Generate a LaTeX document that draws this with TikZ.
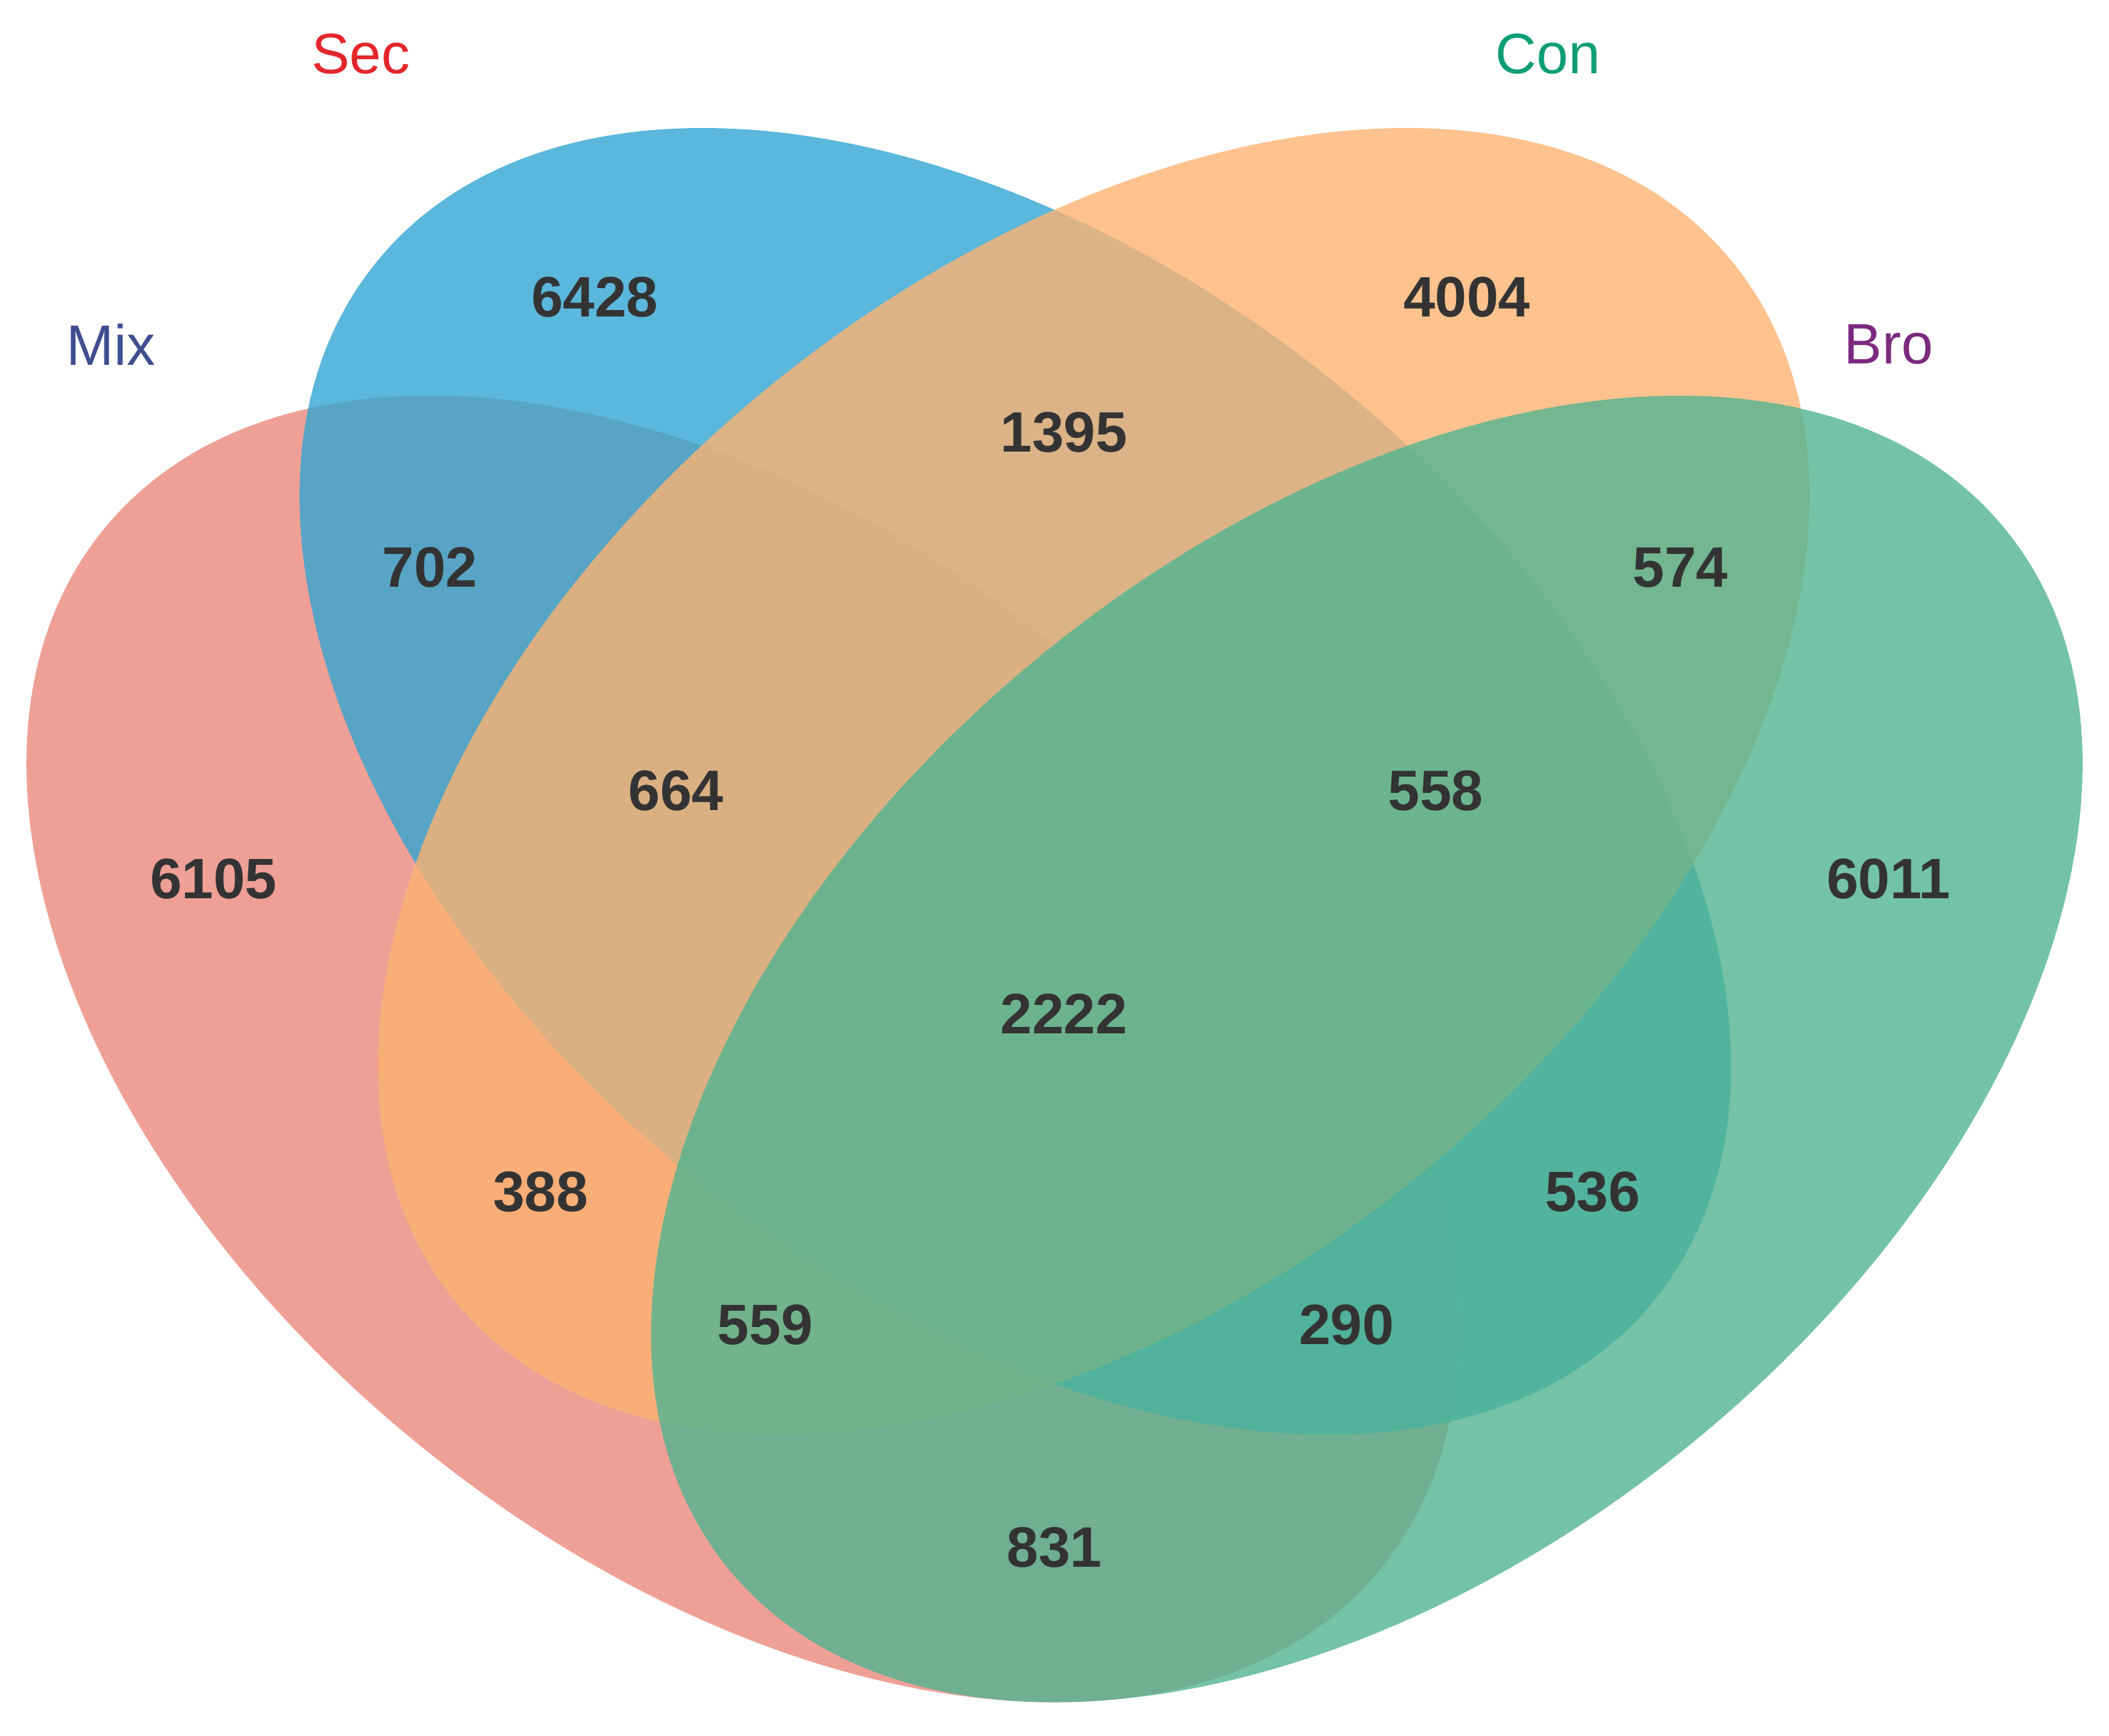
\documentclass[tikz,border=0pt]{standalone}
\usepackage{fontspec}
\setmainfont{Liberation Sans}
\definecolor{cmix}{HTML}{EB887C}
\definecolor{csec}{HTML}{32A5D2}
\definecolor{ccon}{HTML}{FCB372}
\definecolor{cbro}{HTML}{51B490}
\definecolor{tmix}{HTML}{3F4E8F}
\definecolor{tsec}{HTML}{E3262C}
\definecolor{tcon}{HTML}{0E9E75}
\definecolor{tbro}{HTML}{7B2A7E}
\begin{document}
\begin{tikzpicture}[
  num/.style={font=\fontsize{12}{14}\selectfont\bfseries, text=black!80},
  lab/.style={font=\fontsize{12}{14}\selectfont},
  set/.style={fill opacity=0.8}]
\useasboundingbox (0,0) rectangle (15.6,-12.84);
\fill[set,cmix,shift={(5.49,-7.76)},rotate=-39.1] (0,0) ellipse (6.09 and 3.78);
\fill[set,csec,shift={(7.51,-5.78)},rotate=-39.1] (0,0) ellipse (6.09 and 3.78);
\fill[set,ccon,shift={(8.09,-5.78)},rotate=39.1] (0,0) ellipse (6.09 and 3.78);
\fill[set,cbro,shift={(10.11,-7.76)},rotate=39.1] (0,0) ellipse (6.09 and 3.78);
\node[lab,text=tmix] (lmix) at (0.82,-2.55) {Mix};
\node[lab,text=tsec] (lsec) at (2.67,-0.40) {Sec};
\node[lab,text=tcon] (lcon) at (11.45,-0.40) {Con};
\node[lab,text=tbro] (lbro) at (13.97,-2.55) {Bro};
\node[num] (n1) at (4.40,-2.20) {6428};
\node[num] (n2) at (10.85,-2.20) {4004};
\node[num] (n3) at (7.87,-3.20) {1395};
\node[num] (n4) at (3.18,-4.20) {702};
\node[num] (n5) at (12.43,-4.20) {574};
\node[num] (n6) at (5.00,-5.85) {664};
\node[num] (n7) at (10.62,-5.85) {558};
\node[num] (n8) at (1.58,-6.50) {6105};
\node[num] (n9) at (13.97,-6.50) {6011};
\node[num] (n10) at (7.87,-7.50) {2222};
\node[num] (n11) at (4.00,-8.82) {388};
\node[num] (n12) at (11.78,-8.82) {536};
\node[num] (n13) at (5.66,-9.80) {559};
\node[num] (n14) at (9.96,-9.80) {290};
\node[num] (n15) at (7.80,-11.45) {831};
\end{tikzpicture}
\end{document}
